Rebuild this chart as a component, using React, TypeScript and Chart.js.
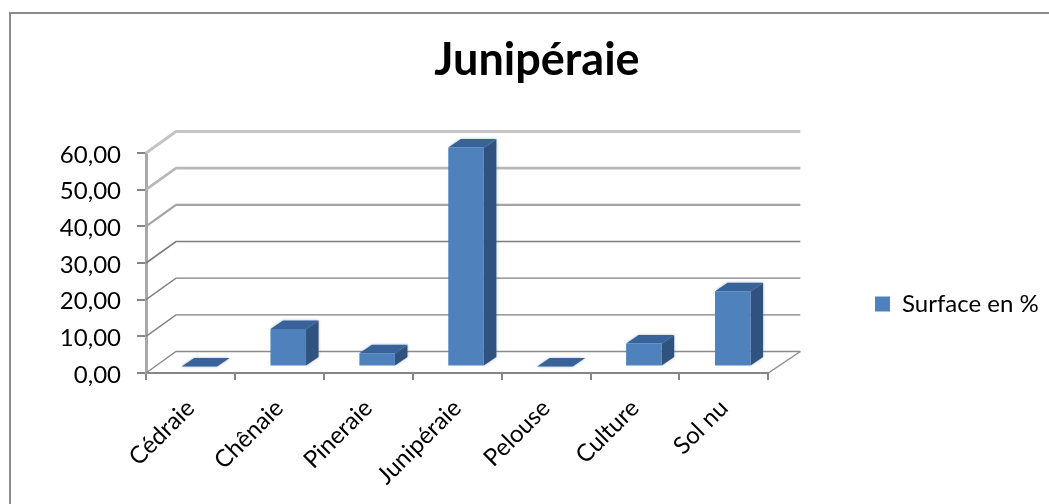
import React, { useEffect, useRef } from "react";
import { Chart, registerables } from "chart.js";

Chart.register(...registerables);

const categories = ["Cédraie", "Chênaie", "Pineraie", "Junipéraie", "Pelouse", "Culture", "Sol nu"];
const seriesName = "Surface en %";
const surfaceValues = [0, 10.2, 3.6, 59.7, 0, 6.3, 20.5];
const yTickLabels = ["0,00", "10,00", "20,00", "30,00", "40,00", "50,00", "60,00"];
const chartTitle = "Junipéraie";

const FONT = "Lato, Carlito, Calibri, sans-serif";
const WALL_DX = 30;
const WALL_DY = -21.5;
const BAR_SHIFT_X = 8.9;
const BAR_SHIFT_Y = -6.5;
const BAR_DX = 12.5;
const BAR_DY = -8.5;

const gridStyles = [
  { color: "#8a8a8a", width: 1.4 },
  { color: "#808080", width: 1.4 },
  { color: "#808080", width: 1.4 },
  { color: "#7c7c7c", width: 1.6 },
  { color: "#a4a4a4", width: 2.2 },
  { color: "#b8b8b8", width: 2.6 },
  { color: "#c4c4c4", width: 3 },
];

const frame3d = {
  id: "frame3d",
  afterLayout(chart: any) {
    const legend = chart.legend;
    const w = legend.right - legend.left;
    legend.left = 865;
    legend.right = 865 + w;
    const h = legend.bottom - legend.top;
    const c = 304;
    legend.top = c - h / 2;
    legend.bottom = c + h / 2;
    const title = chart.titleBlock;
    title.left = 537 - 300;
    title.right = 537 + 300;
  },
  beforeDraw(chart: any) {
    const { ctx } = chart;
    ctx.save();
    ctx.fillStyle = "#ffffff";
    ctx.fillRect(0, 0, chart.width, chart.height);
    ctx.strokeStyle = "#8c8c8c";
    ctx.lineWidth = 2;
    ctx.beginPath();
    ctx.moveTo(10, 504);
    ctx.lineTo(10, 13);
    ctx.lineTo(1049, 13);
    ctx.stroke();
    ctx.restore();
  },
  beforeDatasetsDraw(chart: any) {
    const { ctx, scales } = chart;
    const y = scales.y;
    const x = scales.x;
    const left = x.left;
    const right = x.right;
    ctx.save();
    y.ticks.forEach((t: any, i: number) => {
      const py = y.getPixelForValue(t.value);
      const s = gridStyles[i] || gridStyles[0];
      ctx.strokeStyle = s.color;
      ctx.lineWidth = s.width;
      ctx.beginPath();
      ctx.moveTo(left, py);
      ctx.lineTo(left + WALL_DX, py + WALL_DY);
      ctx.lineTo(right + WALL_DX + 2, py + WALL_DY);
      ctx.stroke();
    });
    const y0 = y.getPixelForValue(0);
    ctx.strokeStyle = "#8a8a8a";
    ctx.lineWidth = 1.4;
    ctx.beginPath();
    ctx.moveTo(right + WALL_DX + 2, y0 + WALL_DY);
    ctx.lineTo(right, y0);
    ctx.stroke();
    ctx.restore();

    const meta = chart.getDatasetMeta(0);
    ctx.save();
    ctx.translate(BAR_SHIFT_X, BAR_SHIFT_Y);
    meta.data.forEach((bar: any) => {
      const l = bar.x - bar.width / 2;
      const r = bar.x + bar.width / 2;
      const t = bar.y;
      const b = bar.base;
      ctx.save();
      ctx.shadowColor = "rgba(90,120,170,0.55)";
      ctx.shadowBlur = 3;
      ctx.fillStyle = "#30527f";
      ctx.beginPath();
      ctx.moveTo(r, t);
      ctx.lineTo(r + BAR_DX, t + BAR_DY);
      ctx.lineTo(r + BAR_DX, b + BAR_DY);
      ctx.lineTo(r, b);
      ctx.closePath();
      ctx.fill();
      ctx.fillStyle = "#38639a";
      ctx.beginPath();
      ctx.moveTo(l, t);
      ctx.lineTo(l + BAR_DX, t + BAR_DY);
      ctx.lineTo(r + BAR_DX, t + BAR_DY);
      ctx.lineTo(r, t);
      ctx.closePath();
      ctx.fill();
      ctx.restore();
    });
  },
  afterDatasetsDraw(chart: any) {
    chart.ctx.restore();
  },
};

export default function App() {
  const ref = useRef<HTMLCanvasElement>(null);
  useEffect(() => {
    const chart = new Chart(ref.current as HTMLCanvasElement, {
      type: "bar",
      data: {
        labels: categories,
        datasets: [
          {
            label: seriesName,
            data: surfaceValues,
            backgroundColor: "#4f81bd",
            borderWidth: 0,
            barPercentage: 0.4,
            categoryPercentage: 1,
          },
        ],
      },
      options: {
        animation: false,
        responsive: false,
        clip: false as any,
        layout: { padding: { left: 0, right: 97, top: 0, bottom: 0 } },
        plugins: {
          tooltip: { enabled: false },
          title: {
            display: true,
            text: chartTitle,
            color: "#000000",
            font: { family: FONT, size: 45, weight: "bold" },
            padding: { top: 33, bottom: 66 },
          },
          legend: {
            display: true,
            position: "right",
            labels: {
              boxWidth: 15,
              boxHeight: 15,
              color: "#000000",
              font: { family: FONT, size: 24 },
              padding: 10,
            },
          },
        },
        scales: {
          x: {
            afterFit: (s: any) => {
              s.height = 131;
            },
            border: { display: true, color: "#868686", width: 2 },
            grid: { drawOnChartArea: false, drawTicks: true, tickLength: 7, color: "#868686", lineWidth: 2 },
            ticks: {
              minRotation: 45,
              maxRotation: 45,
              autoSkip: false,
              color: "#000000",
              padding: 14,
              font: { family: FONT, size: 24 },
            },
          },
          y: {
            min: 0,
            max: 60,
            afterFit: (s: any) => {
              s.width = 146;
            },
            border: { display: true, color: "#a8a8a8", width: 3 },
            grid: { drawOnChartArea: false, drawTicks: true, tickLength: 9, color: "#868686", lineWidth: 2 },
            ticks: {
              stepSize: 10,
              color: "#000000",
              padding: 16,
              labelOffset: 2,
              font: { family: FONT, size: 24 },
              callback: (_v: any, i: number) => yTickLabels[i],
            },
          },
        },
      },
      plugins: [frame3d],
    } as any);
    return () => chart.destroy();
  }, []);
  return (
    <canvas
      ref={ref}
      width={1049}
      height={504}
      style={{ position: "absolute", left: 0, top: 0, display: "block" }}
    />
  );
}
